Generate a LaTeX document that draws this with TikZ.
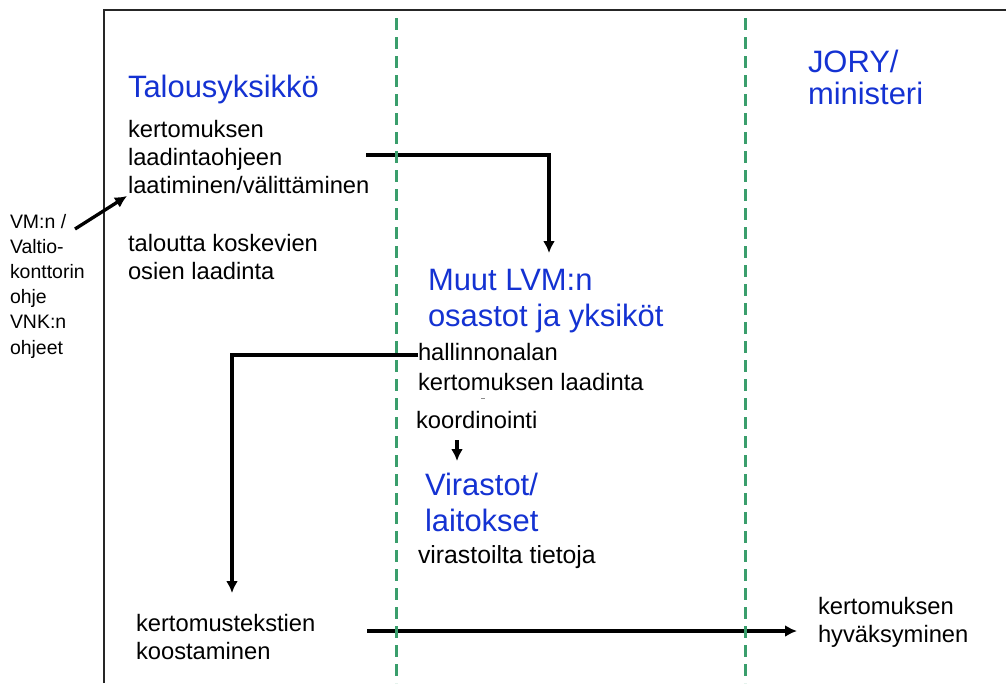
\documentclass[tikz,border=0pt]{standalone}
\usepackage{fontspec}
\setmainfont{Liberation Sans}
\usetikzlibrary{arrows.meta}
\definecolor{headblue}{RGB}{20,50,210}
\definecolor{lanegreen}{RGB}{58,158,108}
\begin{document}
\begin{tikzpicture}[x=0.75pt,y=-0.75pt,
  every node/.style={inner sep=0pt,outer sep=0pt,anchor=base west,align=left},
  head/.style={font=\fontsize{23.2}{24}\selectfont,text=headblue},
  body/.style={font=\fontsize{17.8}{21}\selectfont},
  side/.style={font=\fontsize{14.6}{18.9}\selectfont},
  flow/.style={line width=2.5pt,-{Latex[length=9pt,width=9pt]}},
  lane/.style={draw=lanegreen,line width=2.25pt,dash pattern=on 9pt off 5.25pt},
  frame/.style={draw=black!85,line width=1.5pt}]

\useasboundingbox (0,0) rectangle (1006,683);

% outer frame (open to the right and bottom)
\draw[frame] (104,683) -- (104,10) -- (1006,10);

% column headings (multi-line nodes sit on the baseline of their last line)
\node[head] (talous) at (128,97) {Talousyksikkö};
\node[head,font=\fontsize{23.2}{23.3}\selectfont] (jory) at (808,104) {JORY/\\ministeri};
\node[head,font=\fontsize{23.2}{27}\selectfont] (muut) at (428,326) {Muut LVM:n\\osastot ja yksiköt};
\node[head,font=\fontsize{23.2}{26.3}\selectfont] (virastot) at (425,531) {Virastot/\\laitokset};

% tasks
\node[body] (ohje) at (128,193) {kertomuksen\\laadintaohjeen\\laatiminen/välittäminen};
\node[body] (osat) at (128,279) {taloutta koskevien\\osien laadinta};
\node[body,font=\fontsize{17.8}{21.8}\selectfont] (hallinto) at (418,390) {hallinnonalan\\kertomuksen laadinta};
\node[body] (koord) at (416,428) {koordinointi};
\node[body,font=\fontsize{18.6}{21}\selectfont] (tiedot) at (418,563) {virastoilta tietoja};
\node[body] (kooste) at (136,659) {kertomustekstien\\koostaminen};
\node[body] (hyvaks) at (818,642) {kertomuksen\\hyväksyminen};

% external instructions
\node[side] (vm) at (10,354) {VM:n /\\Valtio-\\konttorin\\ohje\\VNK:n\\ohjeet};

% connector ends
\coordinate (ohjeOut) at (366,155);
\coordinate (muutIn) at (549,253);
\coordinate (hallOut) at (418,355);
\coordinate (koosteIn) at (232,593);
\coordinate (koosteOut) at (367,631);
\coordinate (hyvaksIn) at (797,631);
\coordinate (koordOut) at (457,440);
\coordinate (virastotIn) at (457,461);
\coordinate (vmOut) at (75,229);
\coordinate (ohjeIn) at (127,196);

% flow arrows
\draw[flow] (ohjeOut) -| (muutIn);
\draw[flow] (hallOut) -| (koosteIn);
\draw[flow] (koosteOut) -- (hyvaksIn);
\draw[flow] (koordOut) -- (virastotIn);
\draw[flow] (vmOut) -- (ohjeIn);

% small stray mark above the coordination step
\draw[black!45,line width=0.5pt] (481,398) -- (485,398);

% lane separators
\draw[lane] (396,18) -- (396,683);
\draw[lane] (745,18) -- (745,683);
\end{tikzpicture}
\end{document}
